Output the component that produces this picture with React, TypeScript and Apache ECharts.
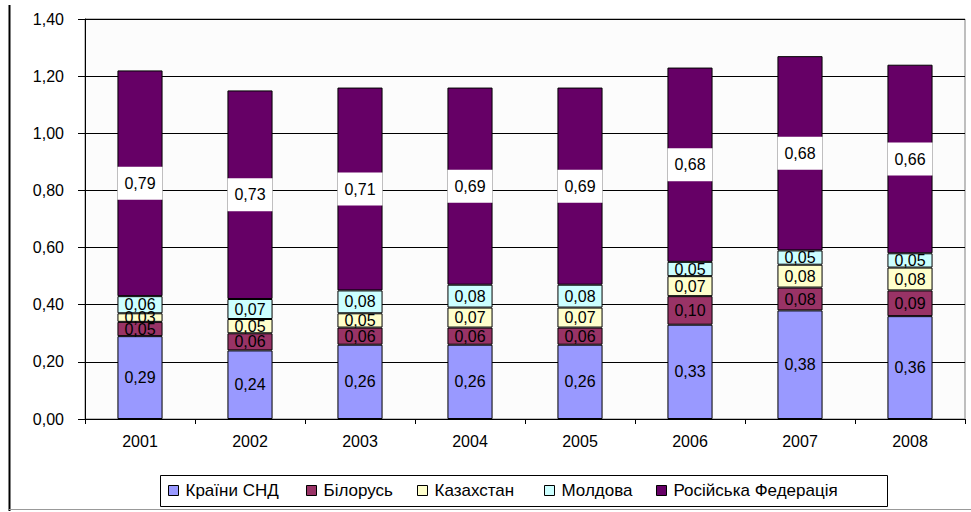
import React, { useEffect, useRef } from "react";
import * as echarts from "echarts";

const categories = ["2001", "2002", "2003", "2004", "2005", "2006", "2007", "2008"];
const seriesNames = ["Країни СНД", "Білорусь", "Казахстан", "Молдова", "Російська Федерація"];
const cisValues = [0.29, 0.24, 0.26, 0.26, 0.26, 0.33, 0.38, 0.36];
const belarusValues = [0.05, 0.06, 0.06, 0.06, 0.06, 0.10, 0.08, 0.09];
const kazakhstanValues = [0.03, 0.05, 0.05, 0.07, 0.07, 0.07, 0.08, 0.08];
const moldovaValues = [0.06, 0.07, 0.08, 0.08, 0.08, 0.05, 0.05, 0.05];
const russiaValues = [0.79, 0.73, 0.71, 0.69, 0.69, 0.68, 0.68, 0.66];
const colors = ["#9999FF", "#993366", "#FFFFCC", "#CCFFFF", "#660066"];

const fmt = (v: number) => v.toFixed(2).replace(".", ",");
const FONT = "'Liberation Sans', Arial, sans-serif";
const FS = 16;
const legendLefts = [168, 306, 417, 544, 656];

export default function App() {
  const ref = useRef<HTMLDivElement>(null);
  useEffect(() => {
    if (!ref.current) return;
    const chart = echarts.init(ref.current, null, { renderer: "svg" });
    const allValues = [cisValues, belarusValues, kazakhstanValues, moldovaValues, russiaValues];
    const series = allValues.map((vals, i) => ({
      name: seriesNames[i],
      type: "bar",
      stack: "total",
      barWidth: "41%",
      data: vals,
      itemStyle: { color: colors[i], borderColor: "#000", borderWidth: 1 },
      label: i === 4
        ? {
            show: true,
            position: "inside",
            formatter: (p: any) => fmt(p.value),
            color: "#000",
            fontSize: FS,
            lineHeight: 16,
            fontFamily: FONT,
            backgroundColor: "#fff",
            padding: [8, 7, 9, 7],
          }
        : {
            show: true,
            position: "inside",
            formatter: (p: any) => fmt(p.value),
            color: "#000",
            fontSize: FS,
            fontFamily: FONT,
          },
    }));
    const legends = seriesNames.map((n, i) => ({
      left: legendLefts[i],
      top: 482,
      itemWidth: 10,
      itemHeight: 10,
      icon: "rect",
      borderWidth: 0,
      padding: 0,
      textStyle: { fontSize: 17, color: "#000", fontFamily: FONT, padding: [0, 0, 0, 2] },
      itemStyle: { borderColor: "#000", borderWidth: 1 },
      data: [n],
    }));
    chart.setOption({
      animation: false,
      backgroundColor: "#fff",
      textStyle: { fontFamily: FONT },
      grid: {
        left: 85,
        right: 6,
        top: 19,
        bottom: 93,
        show: true,
        borderColor: "#808080",
        borderWidth: 1,
        backgroundColor: "#fcfcfc",
      },
      legend: legends,
      xAxis: {
        type: "category",
        data: categories,
        axisLine: { lineStyle: { color: "#000" } },
        axisTick: { show: true, length: 5, lineStyle: { color: "#000" } },
        axisLabel: { color: "#000", fontSize: FS, margin: 14, fontFamily: FONT },
      },
      yAxis: {
        type: "value",
        min: 0,
        max: 1.4,
        interval: 0.2,
        axisLine: { show: true, lineStyle: { color: "#000" } },
        axisTick: { show: true, length: 7, lineStyle: { color: "#000" } },
        axisLabel: {
          color: "#000",
          fontSize: FS,
          margin: 21,
          fontFamily: FONT,
          formatter: (v: number) => fmt(v),
        },
        splitLine: { show: true, lineStyle: { color: "#000", width: 1 } },
      },
      graphic: [
        { type: "line", shape: { x1: 9.5, y1: 5, x2: 9.5, y2: 511 }, style: { stroke: "#000", lineWidth: 2 } },
        { type: "line", shape: { x1: 9, y1: 509.5, x2: 971, y2: 509.5 }, style: { stroke: "#999", lineWidth: 1 } },
        { type: "rect", shape: { x: 160.5, y: 475.5, width: 727, height: 31 }, style: { stroke: "#000", lineWidth: 1, fill: "none" } },
      ],
      series,
    });
    return () => chart.dispose();
  }, []);
  return (
    <div
      ref={ref}
      style={{ position: "absolute", left: 0, top: 0, width: 971, height: 512 }}
    />
  );
}
